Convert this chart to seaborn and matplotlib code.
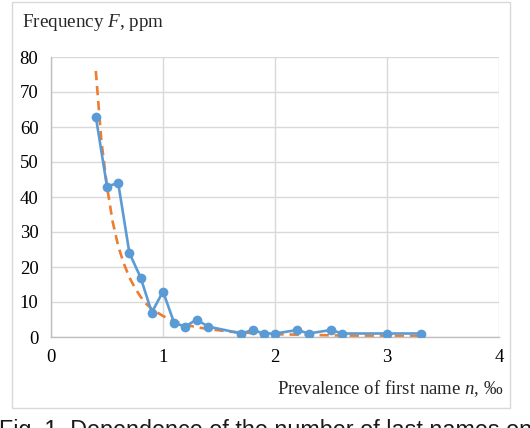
import matplotlib as mpl
import matplotlib.pyplot as plt
import matplotlib.patches as mpatches
import numpy as np
import pandas as pd
import seaborn as sns

# observed frequencies (blue markers)
prevalence = [0.4, 0.5, 0.6, 0.7, 0.8, 0.9, 1.0, 1.1, 1.2, 1.3, 1.4,
              1.7, 1.8, 1.9, 2.0, 2.2, 2.3, 2.5, 2.6, 3.0, 3.3]
frequency = [63, 43, 44, 24, 17, 7, 13, 4, 3, 5, 3,
             1, 2, 1, 1, 2, 1, 2, 1, 1, 1]

# trend curve (orange dashed)
trend_x = [0.4, 0.45, 0.5, 0.55, 0.6, 0.65, 0.7, 0.75, 0.8, 0.85, 0.9,
           1.0, 1.1, 1.2, 1.3, 1.4, 1.6, 1.8, 2.0, 2.3, 2.6, 3.0, 3.3]
trend_y = [76, 56, 43, 33, 26, 21, 17, 14, 11.5, 9.5, 8,
           6, 4.5, 3.5, 2.8, 2.3, 1.5, 1.1, 0.8, 0.6, 0.4, 0.3, 0.2]

x_ticks = [0, 1, 2, 3, 4]
y_ticks = [0, 10, 20, 30, 40, 50, 60, 70, 80]

BLUE = "#5b9bd5"
ORANGE = "#ed7d31"
GRID = "#d9d9d9"

sns.set_style("white")
plt.rcParams["font.family"] = ["Liberation Serif", "DejaVu Serif"]
plt.rcParams["mathtext.fontset"] = "custom"
plt.rcParams["mathtext.rm"] = "Liberation Serif"
plt.rcParams["mathtext.it"] = "Liberation Serif:italic"

obs = pd.DataFrame({"n": prevalence, "F": frequency})
trend = pd.DataFrame({"n": trend_x, "F": trend_y})

fig = plt.figure(figsize=(5.3, 4.28), dpi=100)
ax = fig.add_axes([51 / 530, 1 - 337 / 428, 448 / 530, 280 / 428])

# outer chart-area frame
fig.patches.append(
    mpatches.Rectangle((12 / 530, 1 - 408 / 428), 498 / 530, 406 / 428,
                       transform=fig.transFigure, fill=False,
                       edgecolor=GRID, linewidth=1.0)
)

sns.lineplot(data=trend, x="n", y="F", ax=ax, color=ORANGE,
             linewidth=1.9, zorder=2)
ax.lines[-1].set_dashes((3.5, 2.2))
sns.lineplot(data=obs, x="n", y="F", ax=ax, color=BLUE, linewidth=1.9,
             marker="o", markersize=7, markeredgewidth=0, zorder=3)

ax.set_xlim(0, 4)
ax.set_ylim(0, 80)
ax.set_xticks(x_ticks)
ax.set_yticks(y_ticks)
ax.grid(True, color=GRID, linewidth=1.0)
ax.set_axisbelow(True)
for side in ["top", "right"]:
    ax.spines[side].set_visible(False)
for side in ["left", "bottom"]:
    ax.spines[side].set_color("#bfbfbf")
    ax.spines[side].set_linewidth(1.0)
ax.tick_params(length=0, labelsize=13.5, colors="#000000", pad=9)
ax.set_xlabel("")
ax.set_ylabel("")

fig.text(22 / 530, 1 - 27 / 428, r"Frequency $F$, ppm", fontsize=13.8,
         ha="left", va="baseline")
fig.text(503 / 530, 1 - 394 / 428, r"Prevalence of first name $n$, ‰",
         fontsize=13.5, ha="right", va="baseline")
# caption below the chart, cut by the lower edge as in the source
fig.text(-1 / 530, 1 - 437 / 428,
         "Fig. 1. Dependence of the number of last names on the prevalence",
         fontsize=16.8, family=["Liberation Sans", "DejaVu Sans"],
         color="#1a1a1a", ha="left", va="baseline")

fig.savefig("out.png", dpi=100)
